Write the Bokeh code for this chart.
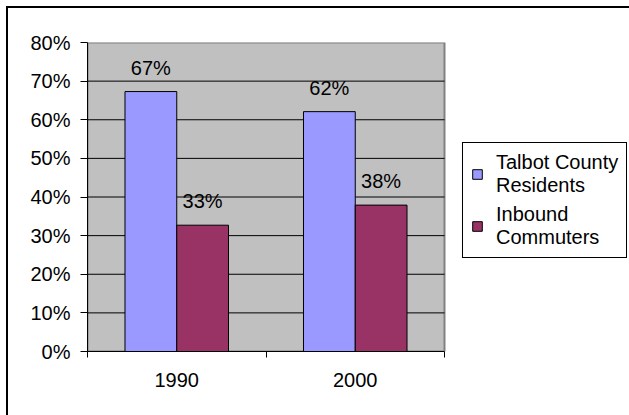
from bokeh.plotting import figure
from bokeh.models import ColumnDataSource, FixedTicker, NumeralTickFormatter, LabelSet, Legend, LegendItem
from bokeh.core.properties import value
from bokeh.embed import file_html
from bokeh.resources import INLINE

# ---- data ----
years = ["1990", "2000"]
series_names = ["Talbot County\nResidents", "Inbound\nCommuters"]
residents = [0.673, 0.621]
commuters = [0.327, 0.379]
residents_labels = ["67%", "62%"]
commuters_labels = ["33%", "38%"]
y_ticks = [0.0, 0.1, 0.2, 0.3, 0.4, 0.5, 0.6, 0.7, 0.8]
colors = ["#9999FF", "#993366"]

FONT = "Liberation Sans"
FS = "20px"

n_cat = len(years)
centers = [i + 0.5 for i in range(n_cat)]
boundaries = [float(i) for i in range(n_cat + 1)]
bar_w = 0.29
off = bar_w / 2

# plot area is 357px wide; the frame continues to the right edge (542px) to host the legend
plot_px, frame_px = 357, 542
x_end = n_cat * frame_px / plot_px

p = figure(frame_width=frame_px, frame_height=309, x_range=(0, x_end), y_range=(y_ticks[0], y_ticks[-1]),
           output_backend="svg", toolbar_location=None,
           min_border_left=79, min_border_right=0, min_border_top=34, min_border_bottom=64,
           styles={"margin-left": "6px", "margin-top": "6px",
                   "border-left": "2px solid black", "border-top": "2px solid black"})
p.background_fill_color = "white"
p.border_fill_color = "white"
p.outline_line_color = None
p.grid.visible = False

# plot area background
p.quad(left=[0], right=[n_cat], bottom=[y_ticks[0]], top=[y_ticks[-1]],
       fill_color="#C0C0C0", line_color="#808080", line_width=2, level="image")
# horizontal grid lines
gy = y_ticks[1:-1]
p.segment(x0=[0] * len(gy), x1=[n_cat] * len(gy), y0=gy, y1=gy,
          line_color="black", line_width=1, level="underlay")

renderers = []
for vals, labs, col, sign in [(residents, residents_labels, colors[0], -1), (commuters, commuters_labels, colors[1], 1)]:
    src = ColumnDataSource(dict(x=[c + sign * off for c in centers], top=vals, label=labs))
    r = p.vbar(x="x", top="top", width=bar_w, source=src, fill_color=col, line_color="black", line_width=1)
    renderers.append(r)
    p.add_layout(LabelSet(x="x", y="top", text="label", source=src, text_align="center",
                          text_baseline="alphabetic", y_offset=17, text_font_size=FS,
                          text_font=value(FONT), text_color="black"))

# x axis
p.xaxis.bounds = (0, n_cat)
p.xaxis.ticker = FixedTicker(ticks=centers, minor_ticks=boundaries)
p.xaxis.major_label_overrides = {c: y for c, y in zip(centers, years)}
p.xaxis.major_tick_out = 0
p.xaxis.major_tick_in = 0
p.xaxis.minor_tick_out = 6
p.xaxis.minor_tick_in = 0
p.xaxis.minor_tick_line_color = "black"
p.xaxis.axis_line_color = "black"
p.xaxis.major_label_standoff = 15
p.xaxis.major_label_text_font_size = FS
p.xaxis.major_label_text_font = FONT
p.xaxis.major_label_text_color = "black"

# y axis
p.yaxis.ticker = FixedTicker(ticks=y_ticks)
p.yaxis.formatter = NumeralTickFormatter(format="0%")
p.yaxis.major_tick_out = 7
p.yaxis.major_tick_in = 0
p.yaxis.major_tick_line_color = "black"
p.yaxis.axis_line_color = "black"
p.yaxis.major_label_standoff = 10
p.yaxis.major_label_text_font_size = FS
p.yaxis.major_label_text_font = FONT
p.yaxis.major_label_text_color = "black"

legend = Legend(items=[LegendItem(label=n, renderers=[r]) for n, r in zip(series_names, renderers)],
                location=(375, 93), border_line_color="black", border_line_width=1, border_line_alpha=1.0,
                background_fill_color="white", background_fill_alpha=1.0,
                padding=8, spacing=6, glyph_width=12, glyph_height=12, label_standoff=13,
                label_text_font_size=FS, label_text_font=FONT, label_text_line_height=1.6,
                label_text_color="black", margin=0)
p.add_layout(legend)

open("out.html", "w").write(file_html(p, INLINE))
